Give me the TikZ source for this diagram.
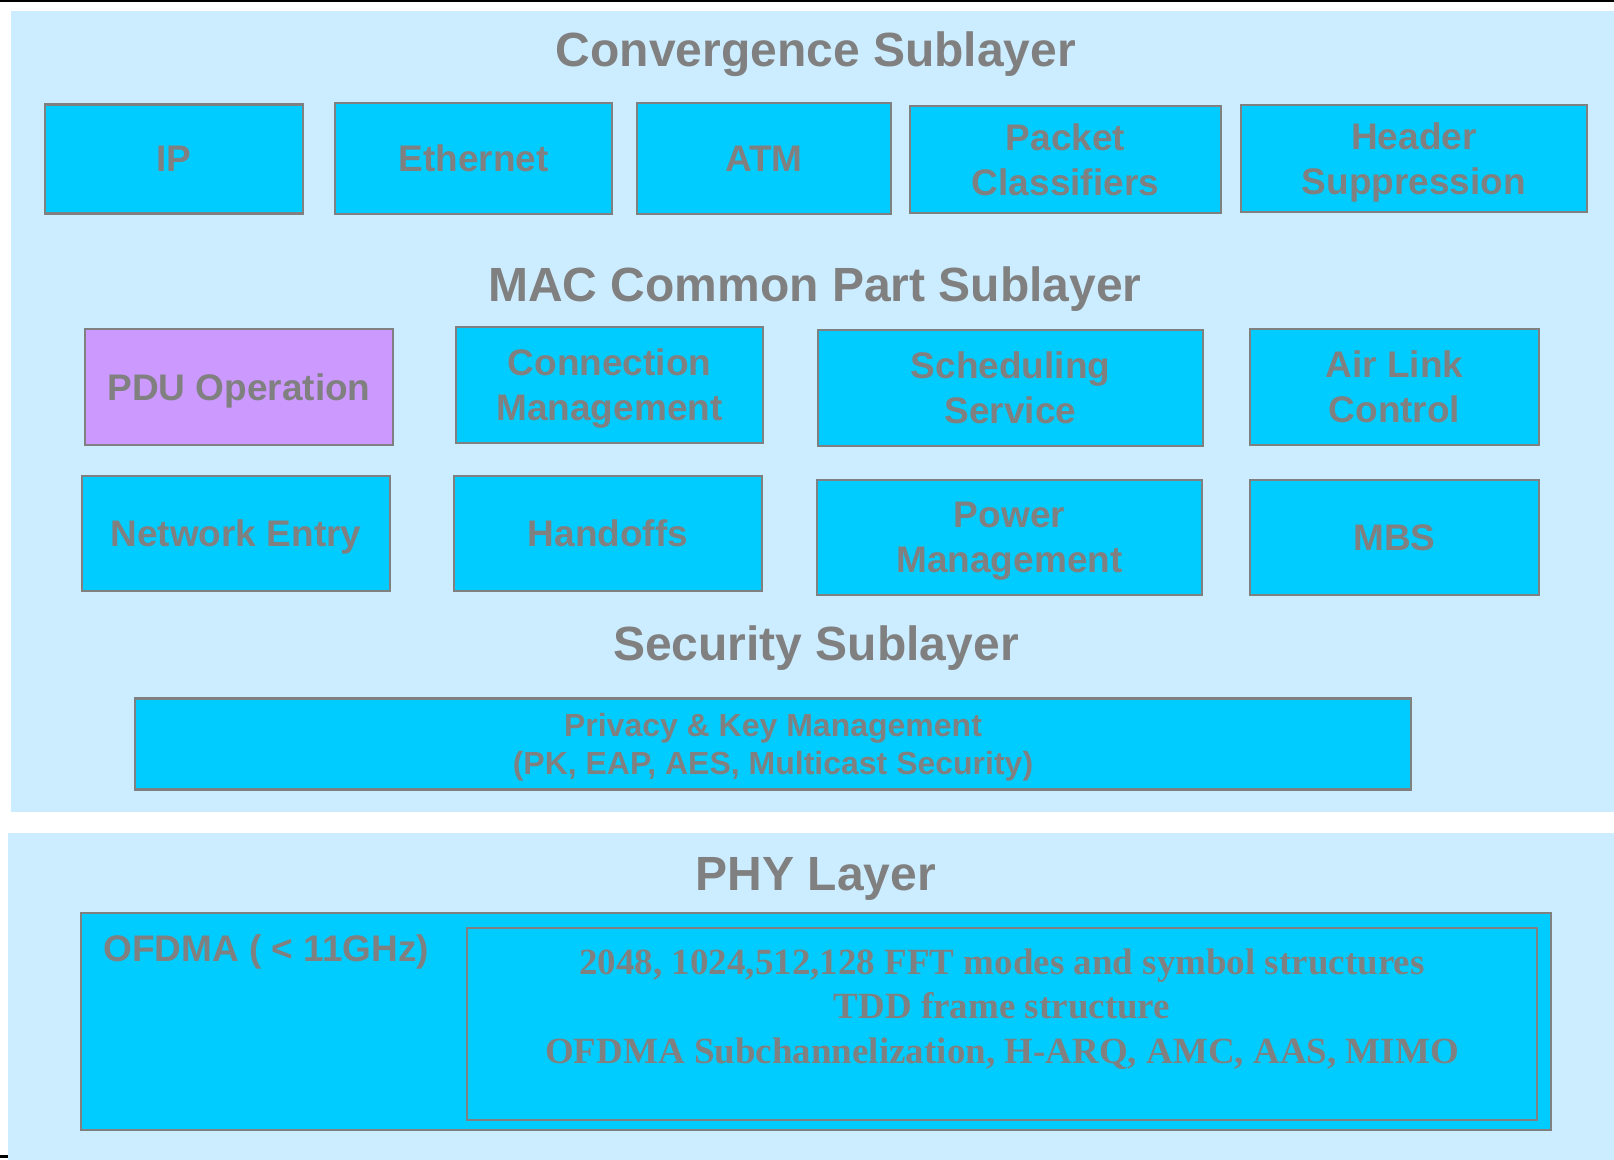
\documentclass[tikz,border=0pt]{standalone}
\usepackage{fontspec}
\setmainfont{Liberation Sans}
\newfontfamily\physerif{Liberation Serif}
\definecolor{panelblue}{HTML}{CCECFF}
\definecolor{boxcyan}{HTML}{00CCFF}
\definecolor{edgegray}{HTML}{808080}
\definecolor{textgray}{HTML}{808080}
\definecolor{pdupurple}{HTML}{CC99FF}
\begin{document}
\begin{tikzpicture}[x=0.5pt,y=-0.5pt,
  box/.style={draw=edgegray, line width=1.3pt, fill=boxcyan, text=textgray,
    font=\fontsize{18.5}{22.5}\selectfont\bfseries, align=center, inner sep=0pt,
    text depth=0pt},
  emptybox/.style={draw=edgegray, line width=1.3pt, fill=boxcyan, inner sep=0pt},
  wh/.style 2 args={minimum width=#1*0.5pt, minimum height=#2*0.5pt},
  title/.style={text=textgray, font=\fontsize{24}{28}\selectfont\bfseries,
    inner sep=0pt, anchor=base}]
\useasboundingbox (0,0) rectangle (1614,1160);
% background panels
\fill[white] (0,0) rectangle (1614,1160);
\fill[black] (0,0) rectangle (1614,2.5);
\fill[panelblue] (11,11) rectangle (1614,812);
\fill[panelblue] (8,833) rectangle (1614,1160);
\fill[black] (0,1155) rectangle (8,1158);

% Convergence Sublayer
\node[title] (cstitle) at (816,67) {Convergence Sublayer};
\node[box, wh={258}{109}] (ip)  at (174,159)  {IP};
\node[box, wh={277}{111}] (eth) at (473.5,158.5) {Ethernet};
\node[box, wh={254}{111}] (atm) at (764,158.5)  {ATM};
\node[box, wh={311}{107}] (pc)  at (1065.5,159.5) {Packet\\Classifiers};
\node[box, wh={346}{107}] (hs)  at (1414,158.5) {Header\\Suppression};

% MAC Common Part Sublayer
\node[title] (mactitle) at (815,302) {MAC Common Part Sublayer};
\node[box, fill=pdupurple, wh={308}{116}] (pdu) at (239,387) {PDU Operation};
\node[box, wh={307}{116}] (conn)  at (609.5,385)  {Connection\\Management};
\node[box, wh={385}{116}] (sched) at (1010.5,388) {Scheduling\\Service};
\node[box, wh={289}{116}] (air)   at (1394.5,387) {Air Link\\Control};
\node[box, wh={308}{115}] (net)   at (236,533.5)  {Network Entry};
\node[box, wh={308}{115}] (hand)  at (608,533.5)  {Handoffs};
\node[box, wh={385}{115}] (power) at (1009.5,537.5) {Power\\Management};
\node[box, wh={289}{115}] (mbs)   at (1394.5,537.5) {MBS};

% Security Sublayer
\node[title] (sectitle) at (816,661) {Security Sublayer};
\node[box, font=\fontsize{16}{19}\selectfont\bfseries, wh={1276}{91}] (priv) at (773,744)
  {Privacy \& Key Management\\(PK, EAP, AES, Multicast Security)};

% PHY Layer
\node[title] (phytitle) at (816,891) {PHY Layer};
\node[emptybox, wh={1470}{217}] (phyouter) at (816,1021.5) {};
\node[text=textgray, font=\fontsize{18.5}{22}\selectfont\bfseries, inner sep=0pt,
  anchor=base west] (ofdma) at (103,961) {OFDMA ( < 11GHz)};
\node[emptybox, wh={1070}{192}] (phyinner) at (1002,1024) {};
\node[text=textgray, font=\physerif\fontsize{18.5}{22.2}\selectfont\bfseries,
  align=center, inner sep=0pt] (phytext) at (1002,1009)
  {2048, 1024,512,128 FFT modes and symbol structures\\TDD frame structure\\OFDMA Subchannelization, H-ARQ, AMC, AAS, MIMO};
\end{tikzpicture}
\end{document}
